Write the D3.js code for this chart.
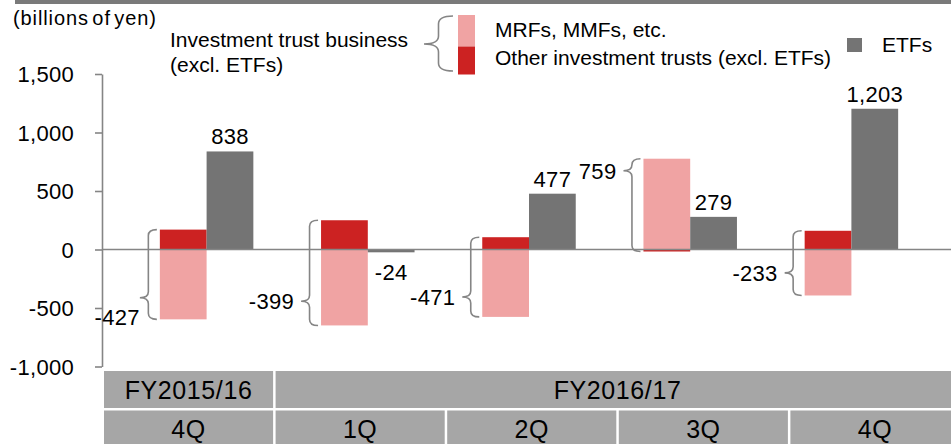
<!DOCTYPE html>
<html><head><meta charset="utf-8">
<script src="https://cdn.jsdelivr.net/npm/d3@7"></script>
<style>
html,body{margin:0;padding:0;background:#fff;}
svg{display:block;font-family:"Liberation Sans",Arial,Helvetica,sans-serif;}
</style></head><body>
<svg id="chart" width="951" height="444"></svg>
<script>
// ---- data ----
const categories = ["FY2015/16-4Q","FY2016/17-1Q","FY2016/17-2Q","FY2016/17-3Q","FY2016/17-4Q"];
const quarterLabels = ["4Q","1Q","2Q","3Q","4Q"];
const fiscalYearLabels = ["FY2015/16","FY2016/17"];
const fiscalYearOfCategory = [0,1,1,1,1];
const mrfValues   = [-597,-649,-576,776,-393];   // MRFs, MMFs, etc.
const otherValues = [170,250,105,-17,160];       // Other investment trusts (excl. ETFs)
const etfValues   = [838,-24,477,279,1203];      // ETFs
const netLabels   = [-427,-399,-471,759,-233];   // Investment trust business (excl. ETFs)
const yTicks      = [-1000,-500,0,500,1000,1500];
const seriesNames = ["MRFs, MMFs, etc.","Other investment trusts (excl. ETFs)","ETFs"];

// ---- layout (not data) ----
const braceTipFrac = [0.76,0.77,0.75,0.13,0.65];
const netLabelShift = [[7,19],[0,0],[0,0],[0,0],[0,0]];

const colPink = "#f0a3a3", colRed = "#cc2222", colGray = "#747474", colAxis = "#858585", colTable = "#a6a6a6";
const fmt = d3.formatLocale({decimal:".",thousands:",",grouping:[3],currency:["",""],minus:"-"}).format(",");

const svg = d3.select("#chart");

// top border
svg.append("rect").attr("x",15).attr("y",0).attr("width",936).attr("height",4).attr("fill","#7a7a7a");

// scales
const y = d3.scaleLinear().domain([-1000,1500]).range([366.5,74]);
const x0 = d3.scaleBand().domain(categories).range([126,932]).paddingInner(0.42).paddingOuter(0.21);
const x1 = d3.scaleBand().domain(["trust","etf"]).range([0,x0.bandwidth()]);

// axis
const axis = d3.axisLeft(y).tickValues(yTicks).tickSize(7).tickSizeOuter(0).tickPadding(21).tickFormat(fmt);
const gAxis = svg.append("g").attr("transform","translate(102,0)").call(axis);
gAxis.selectAll("path,line").attr("stroke",colAxis).attr("stroke-width",1.6);
gAxis.selectAll("text").attr("font-size",22).attr("fill","#000")
  .attr("font-family","'Liberation Sans',Arial,sans-serif").attr("letter-spacing","0.3px").attr("dy","0.36em");

// bars
const rows = categories.map((c,i)=>({c,i,mrf:mrfValues[i],oth:otherValues[i],etf:etfValues[i],net:netLabels[i]}));
function barY(v){return Math.min(y(v),y(0));}
function barH(v){return Math.abs(y(v)-y(0));}
const gBars = svg.append("g");
gBars.selectAll("rect.mrf").data(rows).join("rect").attr("class","mrf")
  .attr("x",d=>x0(d.c)+x1("trust")).attr("width",x1.bandwidth())
  .attr("y",d=>barY(d.mrf)).attr("height",d=>barH(d.mrf)).attr("fill",colPink);
gBars.selectAll("rect.oth").data(rows).join("rect").attr("class","oth")
  .attr("x",d=>x0(d.c)+x1("trust")).attr("width",x1.bandwidth())
  .attr("y",d=>barY(d.oth)).attr("height",d=>Math.max(2,barH(d.oth))).attr("fill",colRed);
gBars.selectAll("rect.etf").data(rows).join("rect").attr("class","etf")
  .attr("x",d=>x0(d.c)+x1("etf")).attr("width",x1.bandwidth())
  .attr("y",d=>barY(d.etf)).attr("height",d=>barH(d.etf)).attr("fill",colGray);

// zero line
svg.append("line").attr("x1",102).attr("x2",951).attr("y1",y(0)).attr("y2",y(0))
  .attr("stroke",colAxis).attr("stroke-width",1.6);

// braces
function bracePath(xEnd,yTop,yBot,yTip,w,r){
  const xv = xEnd - w*0.5, xt = xEnd - w;
  const p = d3.path();
  p.moveTo(xEnd,yTop);
  p.quadraticCurveTo(xv,yTop,xv,yTop+r);
  p.lineTo(xv,yTip-r);
  p.quadraticCurveTo(xv,yTip,xt,yTip);
  p.quadraticCurveTo(xv,yTip,xv,yTip+r);
  p.lineTo(xv,yBot-r);
  p.quadraticCurveTo(xv,yBot,xEnd,yBot);
  return p.toString();
}
const gBr = svg.append("g");
rows.forEach(d=>{
  const left = x0(d.c)+x1("trust");
  const top = y(Math.max(0,d.mrf,d.oth)), bot = y(Math.min(0,d.mrf,d.oth));
  const tipY = top + (bot-top)*braceTipFrac[d.i];
  const xEnd = left-3, w = 17;
  gBr.append("path").attr("d",bracePath(xEnd,top,bot,tipY,w,6))
    .attr("fill","none").attr("stroke",colAxis).attr("stroke-width",1.6);
  const sh = netLabelShift[d.i];
  gBr.append("text").attr("x",xEnd-w-7+sh[0]).attr("y",tipY+8+sh[1])
    .attr("text-anchor","end").attr("font-size",22).attr("letter-spacing","0.3px").attr("fill","#000")
    .text(fmt(d.net));
});

// ETF value labels
svg.append("g").selectAll("text").data(rows).join("text")
  .attr("x",d=>x0(d.c)+x1("etf")+x1.bandwidth()/2)
  .attr("y",d=>d.etf>=0 ? y(d.etf)-7 : y(d.etf)+28)
  .attr("text-anchor","middle").attr("font-size",22).attr("letter-spacing","0.3px").attr("fill","#000")
  .text(d=>fmt(d.etf));

// table
const xt = d3.scaleBand().domain(categories).range([104,962]);
const step = xt.step();
const gT = svg.append("g");
gT.selectAll("rect.q").data(rows).join("rect").attr("class","q")
  .attr("x",d=>xt(d.c)).attr("y",410.5).attr("width",step-2.5).attr("height",40).attr("fill",colTable);
gT.selectAll("text.q").data(rows).join("text").attr("class","q")
  .attr("x",d=>xt(d.c)+(step-2.5)/2).attr("y",438).attr("text-anchor","middle")
  .attr("font-size",25).attr("letter-spacing","0.5px").attr("fill","#000").text(d=>quarterLabels[d.i]);
fiscalYearLabels.forEach((lab,fi)=>{
  const cats = categories.filter((c,i)=>fiscalYearOfCategory[i]===fi);
  const xs = xt(cats[0]), xe = xt(cats[cats.length-1])+step-2.5;
  gT.append("rect").attr("x",xs).attr("y",371).attr("width",xe-xs).attr("height",37).attr("fill",colTable);
  gT.append("text").attr("x",(xs+xe)/2).attr("y",398.5).attr("text-anchor","middle")
    .attr("font-size",25).attr("letter-spacing","0.6px").attr("fill","#000").text(lab);
});

// unit label
svg.append("text").attr("x",13).attr("y",25).attr("font-size",20).attr("letter-spacing","0.9px")
  .attr("word-spacing","-3px").attr("fill","#000").text("(billions of yen)");

// legend
const gL = svg.append("g");
gL.append("text").attr("x",170).attr("y",47).attr("font-size",21).attr("fill","#000").text("Investment trust business");
gL.append("text").attr("x",170).attr("y",72).attr("font-size",21).attr("fill","#000").text("(excl. ETFs)");
gL.append("path").attr("d",bracePath(453,16,71,44,29,8)).attr("fill","none").attr("stroke",colAxis).attr("stroke-width",1.6);
gL.append("rect").attr("x",458).attr("y",15).attr("width",17).attr("height",31.5).attr("fill",colPink);
gL.append("rect").attr("x",458).attr("y",46.5).attr("width",17).attr("height",28).attr("fill",colRed);
gL.append("text").attr("x",495).attr("y",37).attr("font-size",21).attr("fill","#000").text(seriesNames[0]);
gL.append("text").attr("x",495).attr("y",65).attr("font-size",21).attr("fill","#000").text(seriesNames[1]);
gL.append("rect").attr("x",847).attr("y",38).attr("width",15).attr("height",14).attr("fill",colGray);
gL.append("text").attr("x",882).attr("y",52).attr("font-size",21).attr("fill","#000").text(seriesNames[2]);
</script>
</body></html>
